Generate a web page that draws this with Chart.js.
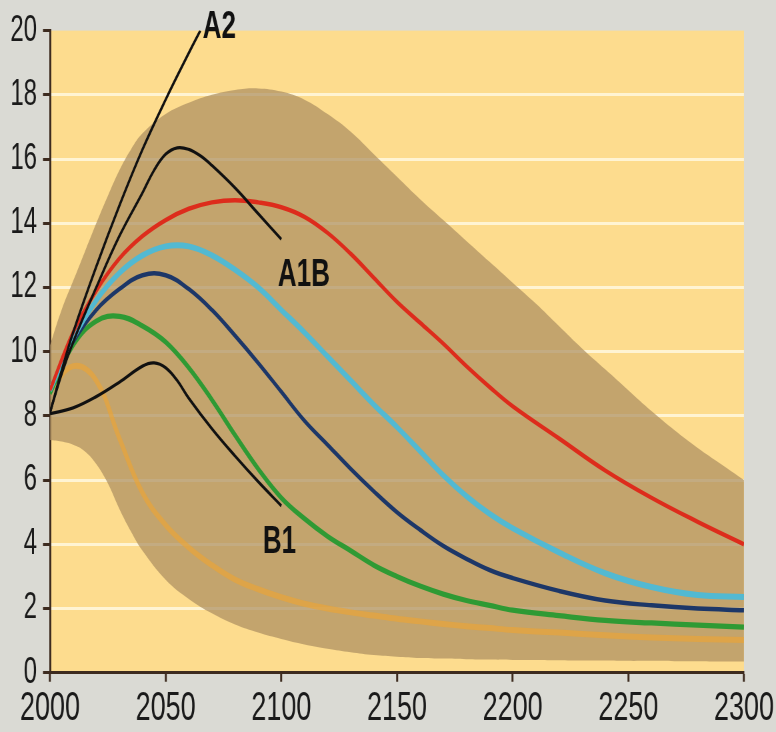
<!DOCTYPE html>
<html>
<head>
<meta charset="utf-8">
<script src="https://cdn.jsdelivr.net/npm/chart.js@4.4.1/dist/chart.umd.min.js"></script>
<style>
    html, body { margin: 0; padding: 0; background: #dadad4; }
    .wrap { width: 776px; height: 732px; overflow: hidden; }
    /* the original picture is stretched vertically, so the canvas is too */
    #chart { display: block; transform: scaleY(1.5); transform-origin: 0 0; }
</style>
</head>
<body>
<div class="wrap"><canvas id="chart" width="776" height="488"></canvas></div>
<script>
// uncertainty band (upper / lower envelope)
const bandYears = [2000, 2005, 2010, 2015, 2020, 2025, 2030, 2035, 2040, 2050, 2060, 2070, 2080, 2090, 2100, 2110, 2120, 2130, 2140, 2150, 2160, 2170, 2180, 2190, 2200, 2210, 2220, 2230, 2240, 2250, 2260, 2270, 2280, 2290, 2300];
const bandUpper = [10.2, 11.3, 12.2, 13.1, 14.0, 14.85, 15.65, 16.3, 16.8, 17.4, 17.75, 18.0, 18.15, 18.2, 18.1, 17.85, 17.4, 16.85, 16.15, 15.45, 14.75, 14.1, 13.45, 12.8, 12.15, 11.5, 10.8, 10.1, 9.45, 8.8, 8.15, 7.55, 7.0, 6.5, 6.0];
const bandLower = [7.25, 7.2, 7.1, 6.9, 6.5, 5.9, 5.1, 4.4, 3.8, 2.9, 2.3, 1.85, 1.5, 1.25, 1.05, 0.88, 0.75, 0.64, 0.55, 0.5, 0.46, 0.44, 0.42, 0.41, 0.4, 0.4, 0.39, 0.38, 0.38, 0.37, 0.37, 0.36, 0.36, 0.35, 0.35];

// coloured model curves
const lineYears = [2000, 2010, 2020, 2030, 2040, 2050, 2060, 2070, 2080, 2090, 2100, 2110, 2120, 2130, 2140, 2150, 2160, 2170, 2180, 2190, 2200, 2220, 2240, 2260, 2280, 2300];
const redValues = [8.8, 10.6, 11.9, 12.9, 13.6, 14.1, 14.45, 14.65, 14.72, 14.65, 14.5, 14.2, 13.7, 13.05, 12.3, 11.55, 10.9, 10.25, 9.55, 8.9, 8.3, 7.3, 6.3, 5.45, 4.7, 4.0];
const cyanValues = [8.8, 10.4, 11.6, 12.45, 13.0, 13.28, 13.28, 13.0, 12.55, 12.0, 11.3, 10.6, 9.85, 9.1, 8.35, 7.65, 6.9, 6.15, 5.5, 4.95, 4.5, 3.75, 3.1, 2.67, 2.42, 2.36];
const blueValues = [8.8, 10.3, 11.3, 11.95, 12.38, 12.38, 11.95, 11.3, 10.5, 9.65, 8.75, 7.85, 7.1, 6.35, 5.65, 5.0, 4.45, 3.95, 3.55, 3.2, 2.95, 2.55, 2.25, 2.1, 2.0, 1.95];
const greenValues = [8.7, 10.2, 10.95, 11.1, 10.8, 10.3, 9.5, 8.5, 7.4, 6.35, 5.45, 4.8, 4.25, 3.8, 3.35, 3.0, 2.7, 2.45, 2.25, 2.1, 1.95, 1.78, 1.63, 1.55, 1.48, 1.42];
const orangeValues = [8.8, 9.55, 9.1, 7.3, 5.6, 4.6, 3.9, 3.35, 2.9, 2.6, 2.35, 2.15, 2.0, 1.88, 1.78, 1.68, 1.6, 1.52, 1.45, 1.39, 1.33, 1.25, 1.17, 1.1, 1.05, 1.02];

// black scenario curves
const a2Years = [2000, 2005, 2010, 2020, 2030, 2040, 2050, 2060, 2065];
const a2Values = [8.1, 9.4, 10.6, 12.65, 14.55, 16.3, 17.85, 19.3, 20.0];
const a1bYears = [2000, 2005, 2010, 2020, 2030, 2040, 2045, 2050, 2055, 2060, 2065, 2070, 2080, 2090, 2100];
const a1bValues = [8.1, 9.3, 10.3, 12.0, 13.6, 14.95, 15.65, 16.15, 16.35, 16.3, 16.1, 15.8, 15.1, 14.3, 13.5];
const b1Years = [2000, 2010, 2020, 2030, 2040, 2045, 2050, 2055, 2060, 2070, 2080, 2090, 2100];
const b1Values = [8.07, 8.25, 8.6, 9.05, 9.55, 9.65, 9.5, 9.1, 8.55, 7.6, 6.75, 5.95, 5.2];

// scenario names, anchored in data units
const scenarioNames = ['A2', 'A1B', 'B1'];
const scenarioYears = [2066, 2098.5, 2092];
const scenarioValues = [20.1, 12.37, 4.08];

const xTicks = { min: 2000, max: 2300, step: 50 };
const yTicks = { min: 0, max: 20, step: 2 };

const toPoints = (years, values) => years.map((x, i) => ({ x, y: values[i] }));

const axisColor = '#3d2b1f';
const tickFont = "'Liberation Sans Narrow', 'Arial Narrow', 'Liberation Sans', Arial, sans-serif";

const plotBackground = {
    id: 'plotBackground',
    beforeDraw(chart) {
        const { ctx, chartArea: a } = chart;
        ctx.save();
        ctx.fillStyle = '#fddc8e';
        ctx.fillRect(a.left, a.top, a.right - a.left, a.bottom - a.top);
        ctx.restore();
    }
};

const scenarioLabels = {
    id: 'scenarioLabels',
    afterDatasetsDraw(chart) {
        const { ctx, scales } = chart;
        ctx.save();
        ctx.font = "bold 26px 'Liberation Sans', Arial, sans-serif";
        ctx.fillStyle = '#111';
        ctx.textAlign = 'left';
        ctx.textBaseline = 'middle';
        scenarioNames.forEach((name, i) => {
            ctx.fillText(name, scales.x.getPixelForValue(scenarioYears[i]), scales.y.getPixelForValue(scenarioValues[i]));
        });
        ctx.restore();
    }
};

function curve(points, color, width, order) {
    return {
        data: points,
        borderColor: color,
        borderWidth: width,
        fill: false,
        tension: 0.4,
        pointRadius: 0,
        order: order
    };
}

new Chart(document.getElementById('chart'), {
    type: 'line',
    data: {
        datasets: [
            {
                data: toPoints(bandYears, bandUpper),
                borderWidth: 0,
                backgroundColor: 'rgba(172,143,97,0.72)',
                fill: '+1',
                tension: 0.4,
                pointRadius: 0,
                order: 10
            },
            {
                data: toPoints(bandYears, bandLower),
                borderWidth: 0,
                fill: false,
                tension: 0.4,
                pointRadius: 0,
                order: 11
            },
            curve(toPoints(lineYears, orangeValues), 'rgba(236,164,52,0.65)', 4, 7),
            curve(toPoints(lineYears, greenValues), '#2f9a34', 3.5, 6),
            curve(toPoints(lineYears, blueValues), '#1d3768', 3, 5),
            curve(toPoints(lineYears, cyanValues), '#52b9d2', 4, 4),
            curve(toPoints(lineYears, redValues), '#dd2c1c', 3, 3),
            curve(toPoints(b1Years, b1Values), '#111', 2.2, 2),
            curve(toPoints(a1bYears, a1bValues), '#111', 2.2, 1),
            curve(toPoints(a2Years, a2Values), '#111', 2.2, 0)
        ]
    },
    options: {
        responsive: false,
        devicePixelRatio: 1.5,
        animation: false,
        events: [],
        layout: { padding: { top: 20, right: 28, left: 0, bottom: 0 } },
        plugins: {
            legend: { display: false },
            tooltip: { enabled: false }
        },
        scales: {
            x: {
                type: 'linear',
                min: xTicks.min,
                max: xTicks.max,
                ticks: {
                    stepSize: xTicks.step,
                    color: '#1a1a1a',
                    font: { family: tickFont, size: 27 },
                    padding: 2,
                    maxRotation: 0,
                    callback: v => String(v)
                },
                grid: { drawOnChartArea: false, tickLength: 6, tickColor: axisColor, tickWidth: 2 },
                border: { color: axisColor, width: 2 },
                afterFit: s => { s.height = 39.5; }
            },
            y: {
                min: yTicks.min,
                max: yTicks.max,
                ticks: {
                    stepSize: yTicks.step,
                    color: '#1a1a1a',
                    font: { family: tickFont, size: 24 },
                    padding: 6
                },
                grid: {
                    color: c => (c.tick && c.tick.value === yTicks.max) ? 'rgba(0,0,0,0)' : 'rgba(255,246,218,0.9)',
                    lineWidth: 2,
                    tickLength: 7,
                    tickColor: axisColor,
                    tickWidth: 2
                },
                border: { color: axisColor, width: 2 },
                afterFit: s => { s.width = 50; }
            }
        }
    },
    plugins: [plotBackground, scenarioLabels]
});
</script>
</body>
</html>
